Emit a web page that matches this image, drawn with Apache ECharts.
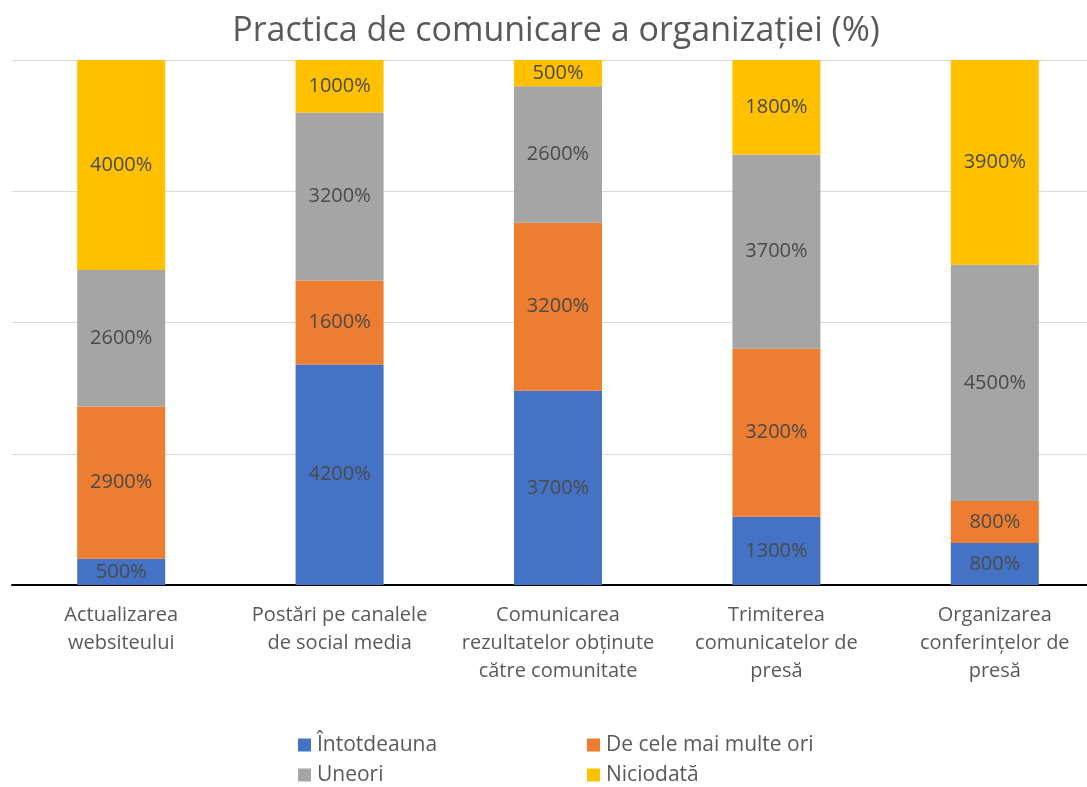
<!DOCTYPE html>
<html>
<head>
<meta charset="utf-8">
<script src="https://cdn.jsdelivr.net/npm/echarts@6/dist/echarts.min.js"></script>
<style>
	html, body { margin: 0; padding: 0; background: #fff; overflow: hidden; }
	/* the original plot runs past the right edge of the picture */
	#chart { width: 1104px; height: 787px; }
</style>
</head>
<body>
<div id="chart"></div>
<script>
var categories = ['Actualizarea\nwebsiteului', 'Postări pe canalele\nde social media', 'Comunicarea\nrezultatelor obținute\ncătre comunitate', 'Trimiterea\ncomunicatelor de\npresă', 'Organizarea\nconferințelor de\npresă'];
var seriesNames = ['Întotdeauna', 'De cele mai multe ori', 'Uneori', 'Niciodată'];
var intotdeauna = [5, 42, 37, 13, 8];
var deCele = [29, 16, 32, 32, 8];
var uneori = [26, 32, 26, 37, 45];
var niciodata = [40, 10, 5, 18, 39];
var colors = ['#4472C4', '#ED7D31', '#A5A5A5', '#FFC000'];

function makeSeries(name, data, color) {
	return {
		name: name,
		type: 'bar',
		stack: 'total',
		data: data,
		barWidth: 88,
		itemStyle: { color: color },
		label: {
			show: true,
			position: 'inside',
			color: '#4a4a4a',
			fontSize: 20,
			fontFamily: 'Open Sans',
			formatter: function(p) {
				return (p.value * 100) + '%';
			}
		}
	};
}

var chart = echarts.init(document.getElementById('chart'));
var legendText = { color: '#595959', fontSize: 21, lineHeight: 22, fontFamily: 'Open Sans', padding: [0, 0, 0, 1] };
var option = {
	animation: false,
	color: colors,
	title: {
		text: 'Practica de comunicare a organizației (%)',
		left: 551,
		textAlign: 'center',
		top: 9,
		textStyle: {
			color: '#595959',
			fontSize: 34,
			fontWeight: 'normal',
			fontFamily: 'Open Sans'
		}
	},
	legend: [{
		orient: 'vertical',
		left: 298,
		top: 734,
		padding: 0,
		itemWidth: 13,
		itemHeight: 13,
		itemGap: 8,
		icon: 'rect',
		data: [seriesNames[0], seriesNames[2]],
		textStyle: legendText
	}, {
		orient: 'vertical',
		left: 587,
		top: 734,
		padding: 0,
		itemWidth: 13,
		itemHeight: 13,
		itemGap: 8,
		icon: 'rect',
		data: [seriesNames[1], seriesNames[3]],
		textStyle: legendText
	}],
	grid: {
		left: 12,
		right: 0,
		top: 60,
		bottom: 202
	},
	xAxis: {
		type: 'category',
		data: categories,
		axisLine: { lineStyle: { color: '#000', width: 2 } },
		axisTick: { show: false },
		axisLabel: {
			color: '#595959',
			fontSize: 20,
			fontFamily: 'Open Sans',
			lineHeight: 28,
			margin: 16,
			interval: 0
		}
	},
	yAxis: {
		type: 'value',
		min: 0,
		max: 100,
		interval: 25,
		axisLabel: { show: false },
		axisLine: { show: false },
		axisTick: { show: false },
		splitLine: { lineStyle: { color: '#d9d9d9', width: 1 } }
	},
	series: [
		makeSeries(seriesNames[0], intotdeauna, colors[0]),
		makeSeries(seriesNames[1], deCele, colors[1]),
		makeSeries(seriesNames[2], uneori, colors[2]),
		makeSeries(seriesNames[3], niciodata, colors[3])
	]
};
chart.setOption(option);
</script>
</body>
</html>
